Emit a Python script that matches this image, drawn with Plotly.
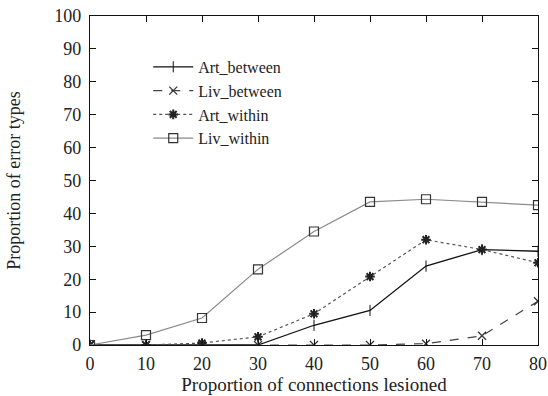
import plotly.graph_objects as go

x_vals = [0, 10, 20, 30, 40, 50, 60, 70, 80]
art_between = [0, 0, 0, 0, 6, 10.5, 24, 29, 28.5]
liv_between = [0, 0, 0, 0, 0, 0, 0.4, 2.8, 13.3]
art_within = [0, 0, 0.6, 2.5, 9.5, 20.8, 32, 29, 25]
liv_within = [0, 3, 8.2, 23, 34.5, 43.5, 44.3, 43.5, 42.5]
x_ticks = [0, 10, 20, 30, 40, 50, 60, 70, 80]
y_ticks = [0, 10, 20, 30, 40, 50, 60, 70, 80, 90, 100]

FONT = "Liberation Serif"

fig = go.Figure()
fig.add_trace(go.Scatter(x=x_vals, y=art_between, name="Art_between", mode="lines+markers",
                         line=dict(color="#111111", width=1.3),
                         marker=dict(symbol="line-ns-open", size=8, color="#111111", line=dict(width=1))))
fig.add_trace(go.Scatter(x=x_vals, y=liv_between, name="Liv_between", mode="lines+markers",
                         line=dict(color="#444444", width=1.2, dash="dash"),
                         marker=dict(symbol="x-thin-open", size=8, color="#333333", line=dict(width=1.3))))
fig.add_trace(go.Scatter(x=x_vals, y=art_within, name="Art_within", mode="lines+markers",
                         line=dict(color="#555555", width=1.2, dash="dot"),
                         marker=dict(symbol="asterisk-open", size=8, color="#222222", line=dict(width=2))))
fig.add_trace(go.Scatter(x=x_vals, y=liv_within, name="Liv_within", mode="lines+markers",
                         line=dict(color="#8a8a8a", width=1.2),
                         marker=dict(symbol="square-open", size=9, color="#333333", line=dict(width=1.2))))

axis_common = dict(showgrid=False, zeroline=False, showline=True, linecolor="#111111", linewidth=1.2,
                   mirror="ticks", ticks="inside", ticklen=6, tickcolor="#111111", automargin=False,
                   tickfont=dict(family=FONT, size=18, color="#222222"))

fig.update_layout(
    width=548, height=396,
    margin=dict(l=90, r=10, t=16, b=51),
    paper_bgcolor="white", plot_bgcolor="white",
    font=dict(family=FONT, size=18, color="#222222"),
    xaxis=dict(range=[0, 80], tickvals=x_ticks, ticklabelstandoff=2,
               title=dict(text="Proportion of connections lesioned",
               font=dict(family=FONT, size=19), standoff=0), **axis_common),
    yaxis=dict(range=[0, 100], tickvals=y_ticks, ticklabelstandoff=4,
               title=dict(text="Proportion of error types",
               font=dict(family=FONT, size=18), standoff=28), **axis_common),
    legend=dict(x=0.13, y=0.897, xanchor="left", yanchor="top", bgcolor="rgba(0,0,0,0)",
                font=dict(family=FONT, size=16), tracegroupgap=0, itemwidth=40),
    showlegend=True,
)

# remove the default 8px body margin so the figure fills the 548x396 window exactly
fig.write_html("out.html", config={"displayModeBar": False},
               post_script="document.body.style.margin='0';")
